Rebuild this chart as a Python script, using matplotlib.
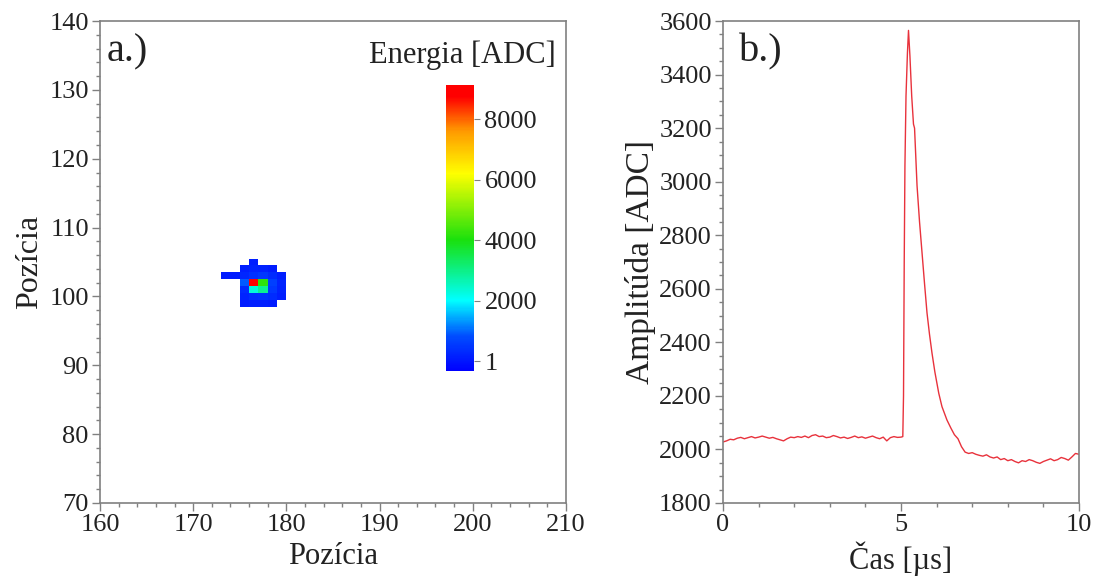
import numpy as np
import matplotlib
matplotlib.use("Agg")
import matplotlib.pyplot as plt
from matplotlib.colors import LinearSegmentedColormap

plt.rcParams["font.family"] = "serif"
plt.rcParams["font.serif"] = ["Liberation Serif", "DejaVu Serif"]

# --- a.) cluster energy map (rows from y=99 at bottom to y=105 at top) ---
pix_x = [173, 174, 175, 176, 177, 178, 179]
pix_y = [99, 100, 101, 102, 103, 104, 105]
energy = [
    [0, 0, 100, 150, 130, 110, 0],
    [0, 0, 200, 350, 400, 300, 120],
    [0, 0, 300, 2300, 2900, 500, 180],
    [0, 0, 900, 8900, 4200, 600, 200],
    [90, 110, 250, 400, 500, 300, 150],
    [0, 0, 120, 200, 180, 100, 0],
    [0, 0, 0, 150, 0, 0, 0],
]
cbar_ticks = [1, 2000, 4000, 6000, 8000]

# --- b.) waveform ---
t_us = [0.0, 0.1, 0.2, 0.3, 0.4, 0.5, 0.6, 0.7, 0.8, 0.9,
        1.0, 1.1, 1.2, 1.3, 1.4, 1.5, 1.6, 1.7, 1.8, 1.9,
        2.0, 2.1, 2.2, 2.3, 2.4, 2.5, 2.6, 2.7, 2.8, 2.9,
        3.0, 3.1, 3.2, 3.3, 3.4, 3.5, 3.6, 3.7, 3.8, 3.9,
        4.0, 4.1, 4.2, 4.3, 4.4, 4.5, 4.6, 4.7, 4.8, 4.9,
        5.0, 5.05, 5.07, 5.09, 5.11, 5.14, 5.18, 5.21, 5.25, 5.30,
        5.35, 5.38, 5.45, 5.52, 5.59, 5.66, 5.73, 5.80, 5.87, 5.95,
        6.06, 6.15, 6.29, 6.40, 6.50, 6.60, 6.70, 6.80, 6.90, 7.0,
        7.1, 7.2, 7.3, 7.4, 7.5, 7.6, 7.7, 7.8, 7.9, 8.0,
        8.1, 8.2, 8.3, 8.4, 8.5, 8.6, 8.7, 8.8, 8.9, 9.0,
        9.1, 9.2, 9.3, 9.4, 9.5, 9.6, 9.7, 9.8, 9.9, 10.0]
amp = [2028, 2032, 2038, 2036, 2042, 2045, 2040, 2044, 2048, 2043,
       2046, 2050, 2046, 2042, 2045, 2040, 2036, 2032, 2040, 2046,
       2044, 2048, 2045, 2050, 2044, 2052, 2055, 2048, 2050, 2044,
       2046, 2052, 2048, 2043, 2046, 2041, 2045, 2050, 2044, 2047,
       2042, 2046, 2050, 2044, 2040, 2046, 2032, 2044, 2048, 2045,
       2046, 2048, 2200, 2700, 3060, 3320, 3480, 3565, 3470, 3320,
       3215, 3200, 2985, 2850, 2735, 2620, 2510, 2430, 2360, 2290,
       2210, 2160, 2110, 2080, 2055, 2040, 2010, 1990, 1985, 1988,
       1982, 1978, 1975, 1980, 1972, 1968, 1972, 1962, 1966, 1958,
       1962, 1955, 1950, 1958, 1955, 1962, 1958, 1952, 1948, 1955,
       1960, 1965, 1958, 1962, 1970, 1966, 1960, 1972, 1985, 1982]

spine_gray = "#808080"
text_col = "#222222"

cmap = LinearSegmentedColormap.from_list("adc", [
    (0.0, (0, 0, 1)), (0.12, (0, 0.3, 1)), (0.246, (0, 1, 1)),
    (0.458, (0.1, 0.88, 0.05)), (0.69, (1, 1, 0)), (0.84, (1, 0.6, 0)),
    (0.96, (1, 0, 0)), (1.0, (1, 0, 0))])

fig = plt.figure(figsize=(10.96, 5.84), dpi=100)
ax1 = fig.add_axes([0.0912, 0.1387, 0.4252, 0.8253])
ax2 = fig.add_axes([0.6597, 0.1387, 0.3248, 0.8253])
cax = fig.add_axes([0.407, 0.3647, 0.0255, 0.49])

E = np.ma.masked_equal(np.array(energy, dtype=float), 0)
xe = np.append(pix_x, pix_x[-1] + 1)
ye = np.append(np.array(pix_y) - 0.5, pix_y[-1] + 0.5)
mesh = ax1.pcolormesh(xe, ye, E, cmap=cmap, vmin=-330, vmax=9130)
ax1.set_xlim(160, 210)
ax1.set_ylim(70, 140)
ax1.set_xticks(range(160, 211, 10))
ax1.set_yticks(range(70, 141, 10))
ax1.set_xticks(np.arange(160, 211, 2), minor=True)
ax1.set_yticks(np.arange(70, 141, 2), minor=True)
ax1.set_xlabel("Pozícia", fontsize=22, color=text_col)
ax1.set_ylabel("Pozícia", fontsize=23, color=text_col)
ax1.text(0.015, 0.975, "a.)", transform=ax1.transAxes, fontsize=29,
         va="top", ha="left", color=text_col)

cb = fig.colorbar(mesh, cax=cax, ticks=cbar_ticks)
cb.outline.set_visible(False)
cb.ax.tick_params(labelsize=19, length=4, color=spine_gray, labelcolor=text_col)
cb.ax.set_yticklabels([str(v) for v in cbar_ticks])
fig.text(0.507, 0.905, "Energia [ADC]", fontsize=22, ha="right", va="center",
         color=text_col)

ax2.plot(t_us, amp, color="#e8323c", lw=1.0)
ax2.set_xlim(0, 10)
ax2.set_ylim(1800, 3600)
ax2.set_xticks([0, 5, 10])
ax2.set_xticks(np.arange(0, 10.1, 1), minor=True)
ax2.set_yticks(range(1800, 3601, 200))
ax2.set_yticks(range(1800, 3601, 50), minor=True)
ax2.set_xlabel("Čas [µs]", fontsize=22, color=text_col)
ax2.set_ylabel("Amplitúda [ADC]", fontsize=24, color=text_col, labelpad=2)
ax2.text(0.045, 0.975, "b.)", transform=ax2.transAxes, fontsize=29,
         va="top", ha="left", color=text_col)

for ax in (ax1, ax2):
    for s in ax.spines.values():
        s.set_color(spine_gray)
        s.set_linewidth(1.2)
    ax.tick_params(which="major", direction="out", length=6, width=1,
                   color=spine_gray, labelsize=19, labelcolor=text_col, pad=2)
    ax.tick_params(which="minor", direction="out", length=3, width=1,
                   color=spine_gray)

fig.savefig("out.png", dpi=100)
